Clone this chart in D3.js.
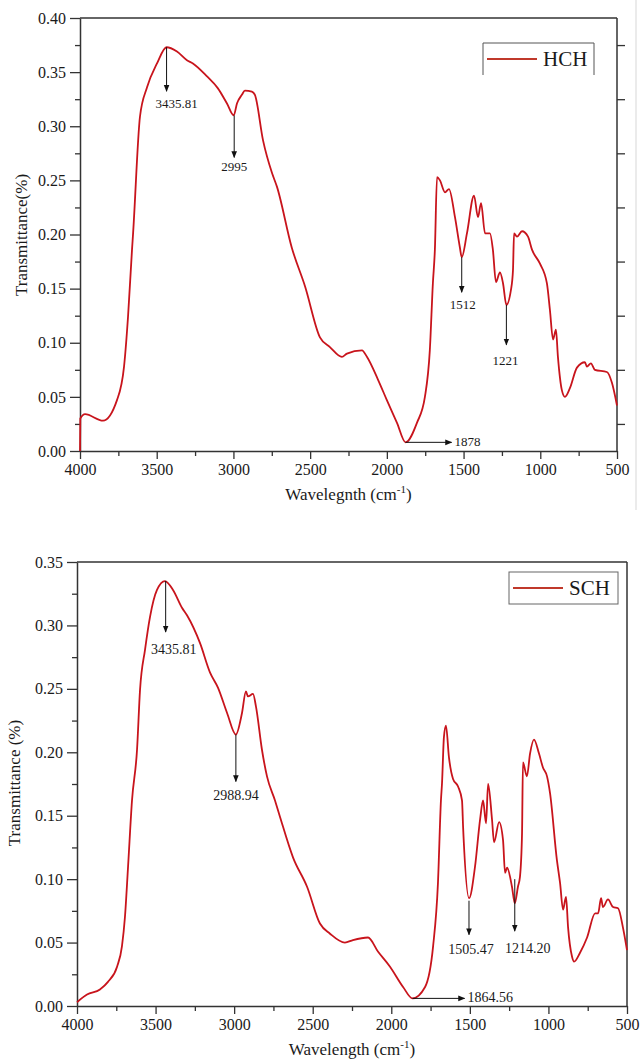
<!DOCTYPE html>
<html><head><meta charset="utf-8">
<script src="https://cdn.jsdelivr.net/npm/d3@7"></script>
<style>body{margin:0;background:#fff}svg{display:block}</style>
</head><body><svg id="c" width="641" height="1063"></svg>
<script>
// ---- Data ----
const hchWave = [4000,3998,3967,3850,3759,3713,3687,3661,3654,3609,3563,3498,3436,3368,3303,3264,3172,3101,3042,2998,2977,2945,2925,2880,2860,2807,2749,2716,2620,2533,2436,2371,2293,2260,2162,2130,2058,2000,1934,1878,1804,1752,1720,1700,1687,1673,1654,1621,1595,1556,1524,1512,1478,1432,1406,1386,1360,1328,1309,1289,1263,1243,1221,1191,1178,1171,1152,1119,1080,1054,1002,957,937,917,898,885,859,839,807,761,709,696,670,644,566,533,500];
const hchT    = [0.000,0.030,0.034,0.028,0.047,0.078,0.124,0.186,0.201,0.309,0.336,0.358,0.373,0.369,0.361,0.358,0.346,0.335,0.321,0.310,0.321,0.329,0.333,0.332,0.329,0.287,0.257,0.244,0.188,0.152,0.105,0.096,0.087,0.090,0.093,0.087,0.066,0.047,0.026,0.008,0.026,0.050,0.093,0.155,0.186,0.253,0.250,0.239,0.242,0.216,0.188,0.179,0.201,0.236,0.216,0.229,0.201,0.201,0.186,0.156,0.165,0.155,0.135,0.149,0.167,0.201,0.198,0.203,0.198,0.186,0.173,0.155,0.130,0.103,0.112,0.087,0.056,0.050,0.058,0.077,0.082,0.078,0.081,0.075,0.073,0.063,0.042];
const schWave = [4000,3936,3854,3803,3745,3714,3695,3675,3650,3618,3599,3567,3535,3491,3440,3389,3332,3300,3217,3154,3103,3045,2989,2950,2925,2912,2880,2861,2823,2791,2740,2708,2625,2536,2454,2390,2295,2244,2148,2085,2008,1925,1865,1785,1734,1703,1684,1677,1665,1652,1633,1607,1575,1550,1543,1505,1467,1435,1416,1397,1384,1359,1346,1314,1289,1276,1263,1232,1214,1194,1181,1168,1162,1137,1117,1092,1060,1035,1009,990,946,926,907,888,875,850,837,799,754,703,684,665,653,621,589,557,526,500];
const schT    = [0.003,0.009,0.013,0.019,0.031,0.047,0.070,0.110,0.162,0.202,0.249,0.281,0.307,0.328,0.335,0.328,0.314,0.308,0.286,0.263,0.251,0.231,0.214,0.231,0.248,0.244,0.246,0.236,0.202,0.181,0.162,0.149,0.117,0.094,0.065,0.057,0.050,0.052,0.054,0.043,0.031,0.015,0.006,0.015,0.047,0.097,0.162,0.176,0.212,0.221,0.196,0.179,0.173,0.162,0.141,0.085,0.110,0.147,0.162,0.144,0.175,0.147,0.129,0.145,0.131,0.105,0.109,0.094,0.081,0.094,0.102,0.136,0.192,0.181,0.199,0.210,0.199,0.188,0.181,0.168,0.115,0.097,0.076,0.086,0.062,0.039,0.035,0.042,0.054,0.073,0.073,0.085,0.078,0.084,0.078,0.077,0.062,0.044];
const xTicks = [4000,3500,3000,2500,2000,1500,1000,500];
const xMinor = [3750,3250,2750,2250,1750,1250,750];
const yTicksTop = [0.00,0.05,0.10,0.15,0.20,0.25,0.30,0.35,0.40];
const yTicksBot = [0.00,0.05,0.10,0.15,0.20,0.25,0.30,0.35];
const hchPeaks = [{w:3435.81,t:0.373,label:"3435.81"},{w:2995,t:0.310,label:"2995"},{w:1512,t:0.179,label:"1512"},{w:1221,t:0.135,label:"1221"}];
const hchMin = {w:1878,t:0.008,label:"1878"};
const schPeaks = [{w:3435.81,t:0.335,label:"3435.81"},{w:2988.94,t:0.214,label:"2988.94"},{w:1505.47,t:0.083,label:"1505.47"},{w:1214.20,t:0.100,label:"1214.20"}];
const schMin = {w:1864.56,t:0.006,label:"1864.56"};

const FONT = "'Liberation Serif', 'Times New Roman', serif";
const svg = d3.select("#c");
const RED = "#c8141c";
const AX = "#333";

svg.append("line").attr("x1",636).attr("x2",636).attr("y1",0).attr("y2",510).attr("stroke","#e4e4e4").attr("stroke-width",1.5);

const defs = svg.append("defs");
defs.append("marker").attr("id","ah").attr("viewBox","0 0 10 10").attr("refX",9).attr("refY",5)
  .attr("markerWidth",7).attr("markerHeight",7).attr("orient","auto-start-reverse").attr("markerUnits","userSpaceOnUse")
  .append("path").attr("d","M0,1 L10,5 L0,9 Z").attr("fill","#111");

function panel(cfg){
  const g = svg.append("g");
  const x = d3.scaleLinear().domain([4000,500]).range([cfg.L,cfg.R]);
  const y = d3.scaleLinear().domain([0,cfg.ymax]).range([cfg.B,cfg.T]);
  g.append("line").attr("x1",cfg.L).attr("x2",cfg.R).attr("y1",cfg.T).attr("y2",cfg.T).attr("stroke",AX).attr("stroke-width",1.5);
  g.append("line").attr("x1",cfg.R).attr("x2",cfg.R).attr("y1",cfg.T).attr("y2",cfg.B).attr("stroke",AX).attr("stroke-width",1.5);
  g.append("g").attr("transform",`translate(0,${cfg.B})`)
    .call(d3.axisBottom(x).tickValues(xTicks).tickFormat(d3.format("d")).tickSizeInner(8).tickSizeOuter(0).tickPadding(5));
  g.append("g").attr("transform",`translate(0,${cfg.B})`)
    .call(d3.axisBottom(x).tickValues(xMinor).tickFormat("").tickSizeInner(5).tickSizeOuter(0)).select(".domain").remove();
  const yTicks = cfg.ymax>0.38 ? yTicksTop : yTicksBot;
  const yMinor = yTicks.slice(0,-1).map(v=>v+0.025);
  g.append("g").attr("transform",`translate(${cfg.L},0)`)
    .call(d3.axisLeft(y).tickValues(yTicks).tickFormat(d3.format(".2f")).tickSizeInner(10).tickSizeOuter(0).tickPadding(4));
  g.append("g").attr("transform",`translate(${cfg.L},0)`)
    .call(d3.axisLeft(y).tickValues(yMinor).tickFormat("").tickSizeInner(5).tickSizeOuter(0)).select(".domain").remove();
  if(cfg.rightTicks){
    g.append("g").attr("transform",`translate(${cfg.R},0)`)
      .call(d3.axisLeft(y).tickValues(yMinor).tickFormat("").tickSizeInner(-8).tickSizeOuter(0)).select(".domain").remove();
  }
  g.selectAll(".domain").attr("stroke",AX).attr("stroke-width",1.5);
  g.selectAll(".tick line").attr("stroke",AX).attr("stroke-width",1.3);
  g.selectAll(".tick text").attr("font-size",16);
  const pts = cfg.wave.map((w,i)=>[w,cfg.vals[i]]);
  g.append("path").datum(pts).attr("fill","none").attr("stroke",RED).attr("stroke-width",1.8)
    .attr("d",d3.line().x(d=>x(d[0])).y(d=>y(d[1])).curve(d3.curveMonotoneX));
  cfg.peaks.forEach((p,i)=>{
    const a = cfg.ann[i];
    const px = x(p.w);
    g.append("line").attr("x1",px).attr("x2",px).attr("y1",y(p.t)).attr("y2",y(p.t)+a.len)
      .attr("stroke","#111").attr("stroke-width",1).attr("marker-end","url(#ah)");
    g.append("text").attr("x",px+a.dx).attr("y",y(p.t)+a.len+a.dy).attr("text-anchor","middle")
      .attr("font-size",cfg.annSize).text(p.label);
  });
  const mx = x(cfg.min.w), my = y(cfg.min.t);
  g.append("line").attr("x1",mx).attr("x2",mx+cfg.minLen).attr("y1",my).attr("y2",my)
    .attr("stroke","#111").attr("stroke-width",1).attr("marker-end","url(#ah)");
  g.append("text").attr("x",mx+cfg.minLen+3).attr("y",my+4).attr("font-size",cfg.annSize).text(cfg.min.label);
  const xt = g.append("text").attr("x",(cfg.L+cfg.R)/2).attr("y",cfg.xtY).attr("text-anchor","middle").attr("font-size",17);
  xt.append("tspan").text(cfg.xtitle+" (cm");
  xt.append("tspan").attr("font-size",11).attr("dy",-7).text("-1");
  xt.append("tspan").attr("dy",7).text(")");
  g.append("text").attr("transform",`translate(${cfg.ytX},${cfg.ytY}) rotate(-90)`).attr("text-anchor","middle")
    .attr("font-size",17).text(cfg.ytitle);
  const lg = cfg.leg;
  if(cfg.openLegend){
    g.append("path").attr("d",`M${lg.x},${lg.y+lg.h} V${lg.y} H${lg.x+lg.w} V${lg.y+lg.h}`).attr("fill","none").attr("stroke","#555").attr("stroke-width",1);
  } else {
    g.append("rect").attr("x",lg.x).attr("y",lg.y).attr("width",lg.w).attr("height",lg.h).attr("fill","none").attr("stroke","#666").attr("stroke-width",1);
  }
  g.append("line").attr("x1",lg.x+4).attr("x2",lg.x+54).attr("y1",lg.y+lg.h/2).attr("y2",lg.y+lg.h/2).attr("stroke","#c0392b").attr("stroke-width",2);
  g.append("text").attr("x",lg.x+60).attr("y",lg.y+lg.h/2+7).attr("font-size",21).text(cfg.name);
}

panel({L:80,R:617,T:18,B:451,ymax:0.40,wave:hchWave,vals:hchT,peaks:hchPeaks,min:hchMin,
  ann:[{len:44,dx:10,dy:17},{len:42,dx:0,dy:14},{len:35,dx:1,dy:17},{len:40,dx:-1,dy:20}],
  annSize:13,minLen:46,rightTicks:true,openLegend:true,
  xtitle:"Wavelegnth",xtY:500,ytitle:"Transmittance(%)",ytX:27,ytY:235,
  leg:{x:483,y:43,w:111,h:32},name:"HCH"});

panel({L:77,R:627,T:562,B:1006,ymax:0.35,wave:schWave,vals:schT,peaks:schPeaks,min:schMin,
  ann:[{len:51,dx:8,dy:22},{len:47,dx:0,dy:18},{len:34,dx:2,dy:19},{len:52,dx:13,dy:22}],
  annSize:14,minLen:52,rightTicks:false,openLegend:false,
  xtitle:"Wavelength",xtY:1055,ytitle:"Transmittance (%)",ytX:20,ytY:783,
  leg:{x:509,y:572,w:109,h:32},name:"SCH"});

svg.selectAll("g").attr("font-family",null);
svg.selectAll("text").style("font-family",FONT).style("fill","#1a1a1a");
</script></body></html>
